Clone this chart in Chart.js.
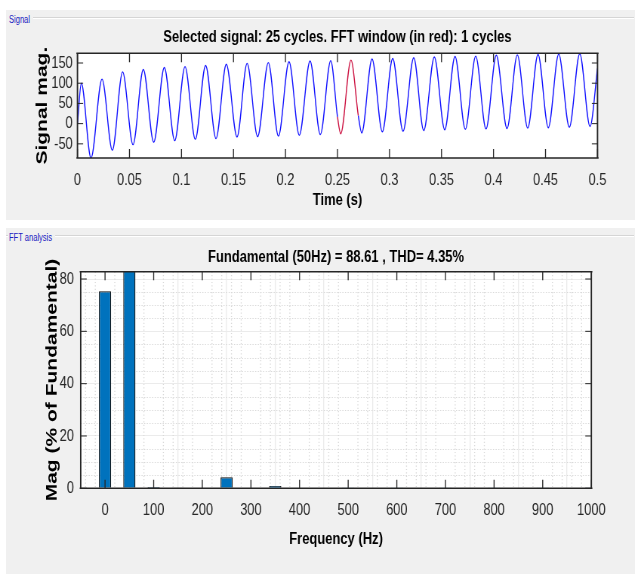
<!DOCTYPE html>
<html><head><meta charset="utf-8">
<script src="https://cdn.jsdelivr.net/npm/chart.js@4.4.1/dist/chart.umd.min.js"></script>
<style>
html,body{margin:0;padding:0;background:#fff;}
#root{position:relative;width:644px;height:574px;overflow:hidden;background:#fff;}
.panel{position:absolute;background:#f0f0f0;}
.etch{position:absolute;height:0;border-top:1px solid #d5d5d5;border-bottom:1px solid #ffffff;}
.plabel{position:absolute;font-family:'Liberation Sans',Arial,sans-serif;font-size:10px;color:#2020c0;transform:scaleX(0.755);transform-origin:0 0;white-space:nowrap;line-height:10px;}
canvas{position:absolute;left:0;transform:scaleX(0.755);transform-origin:0 0;}
</style></head>
<body><div id="root">
<div class="panel" style="left:6px;top:10px;width:629px;height:210px"></div>
<div class="panel" style="left:6px;top:228px;width:629px;height:346px"></div>
<div class="etch" style="left:33px;top:17px;width:601px"></div>
<div class="etch" style="left:55px;top:235px;width:579px"></div>
<div class="etch" style="left:6px;top:235px;width:2px"></div>
<div class="plabel" style="left:9px;top:15px">Signal</div>
<div class="plabel" style="left:9px;top:233px">FFT analysis</div>
<canvas id="c1" width="853" height="220" style="top:0px"></canvas>
<canvas id="c2" width="853" height="354" style="top:220px"></canvas>
</div>
<script>
// ---------- data ----------
const timePoints = [0, 0.0037, 0.0130, 0.0236, 0.0335, 0.0434, 0.0534, 0.0633, 0.0733, 0.0835, 0.0935, 0.1034, 0.1133, 0.1232, 0.1332, 0.1431, 0.1534, 0.1631, 0.1732, 0.1835, 0.1932, 0.2034, 0.2133, 0.2236, 0.2335, 0.2435, 0.25, 0.2531, 0.2630, 0.27, 0.2733, 0.2832, 0.2931, 0.3031, 0.3130, 0.3233, 0.3329, 0.3431, 0.3531, 0.3630, 0.3729, 0.3829, 0.3928, 0.4027, 0.4130, 0.4229, 0.4329, 0.4428, 0.4527, 0.4627, 0.4729, 0.4829, 0.4928, 0.5];
const signalValues = [0, 100, -85, 110, -66, 128, -52, 134, -46, 139, -42, 141, -39, 144, -37, 147, -33, 149, -32, 151, -31, 153, -29, 155, -27, 156, 17, -25, 157, 20, -23, 160, -20, 161, -19, 163, -17, 165, -15, 166, -14, 167, -13, 169, -12, 170, -11, 171, -10, 172, -9, 173, -7, 137];
const fftWindow = [0.25, 0.27];
const timeTicks = [0, 0.05, 0.1, 0.15, 0.2, 0.25, 0.3, 0.35, 0.4, 0.45, 0.5];
const timeTickLabels = ['0', '0.05', '0.1', '0.15', '0.2', '0.25', '0.3', '0.35', '0.4', '0.45', '0.5'];
const signalTicks = [-50, 0, 50, 100, 150];
const signalTickLabels = ['-50', '0', '50', '100', '150'];
const signalRange = [-85, 174];

const harmonicFreqs = [0, 50, 100, 150, 200, 250, 300, 350, 400, 450, 500, 550, 600, 650, 700, 750, 800, 850, 900, 950, 1000];
const harmonicMags = [75.3, 100, 0.5, 0.3, 0.25, 4.2, 0.2, 0.9, 0.2, 0.25, 0.1, 0.25, 0.1, 0.25, 0.1, 0.25, 0.1, 0.25, 0.1, 0.25, 0.1];
const freqTicks = [0, 100, 200, 300, 400, 500, 600, 700, 800, 900, 1000];
const freqTickLabels = ['0', '100', '200', '300', '400', '500', '600', '700', '800', '900', '1000'];
const magTicks = [0, 20, 40, 60, 80];
const magTickLabels = ['0', '20', '40', '60', '80'];
const freqRange = [-50, 1000];
const magRange = [0, 82.8];

const titleSignal = 'Selected signal: 25 cycles. FFT window (in red): 1 cycles';
const titleFFT = 'Fundamental (50Hz) = 88.61 , THD= 4.35%';

// ---------- style ----------
const SX = 0.755;
const FONT = "'Liberation Sans', Arial, Helvetica, sans-serif";
const AX = '#262626';

const framePlugin = {
  id: 'frame',
  beforeDraw(chart) {
    const {ctx, chartArea: a} = chart;
    ctx.save(); ctx.fillStyle = '#ffffff';
    ctx.fillRect(a.left, a.top, a.right - a.left, a.bottom - a.top);
    ctx.restore();
  },
  beforeDatasetsDraw(chart, args, o) {
    if (!o.minor) return;
    const {ctx, chartArea: a, scales: {x, y}} = chart;
    ctx.save();
    ctx.strokeStyle = o.minorColor;
    ctx.setLineDash([1.2, 2.2]);
    ctx.lineWidth = 1 / SX;
    ctx.beginPath();
    for (let v = Math.ceil(x.min / o.xMinor) * o.xMinor; v <= x.max; v += o.xMinor) {
      if (v % o.xMajor === 0) continue;
      const p = x.getPixelForValue(v);
      ctx.moveTo(p, a.top); ctx.lineTo(p, a.bottom);
    }
    ctx.stroke();
    ctx.lineWidth = 1;
    ctx.setLineDash([1.5, 2]);
    ctx.beginPath();
    for (let v = Math.ceil(y.min / o.yMinor) * o.yMinor; v <= y.max; v += o.yMinor) {
      if (v % o.yMajor === 0) continue;
      const p = Math.round(y.getPixelForValue(v)) + 0.5;
      ctx.moveTo(a.left, p); ctx.lineTo(a.right, p);
    }
    ctx.stroke();
    ctx.restore();
  },
  afterDatasetsDraw(chart, args, o) {
    const {ctx, chartArea: a, scales: {x, y}} = chart;
    ctx.save();
    ctx.strokeStyle = AX;
    ctx.lineWidth = 1 / SX;
    ctx.beginPath();
    x.ticks.forEach(t => {
      const p = x.getPixelForValue(t.value);
      ctx.moveTo(p, a.bottom); ctx.lineTo(p, a.bottom - o.tickV);
      ctx.moveTo(p, a.top); ctx.lineTo(p, a.top + o.tickV);
    });
    ctx.stroke();
    ctx.lineWidth = 1;
    ctx.beginPath();
    y.ticks.forEach(t => {
      const p = y.getPixelForValue(t.value);
      ctx.moveTo(a.left, p); ctx.lineTo(a.left + o.tickH, p);
      ctx.moveTo(a.right, p); ctx.lineTo(a.right - o.tickH, p);
    });
    ctx.stroke();
    const bw = 1.4;
    ctx.lineWidth = bw;
    ctx.beginPath();
    ctx.moveTo(a.left - bw, a.top); ctx.lineTo(a.right + bw, a.top);
    ctx.moveTo(a.left - bw, a.bottom); ctx.lineTo(a.right + bw, a.bottom);
    ctx.stroke();
    ctx.lineWidth = bw / SX;
    ctx.beginPath();
    ctx.moveTo(a.left, a.top); ctx.lineTo(a.left, a.bottom);
    ctx.moveTo(a.right, a.top); ctx.lineTo(a.right, a.bottom);
    ctx.stroke();
    ctx.restore();
  }
};

function fixTicks(values) {
  return scale => { scale.ticks = values.map(v => ({value: v})); };
}

// ---------- chart 1: signal ----------
new Chart(document.getElementById('c1'), {
  type: 'line',
  data: {
    datasets: [{
      data: timePoints.map((t, i) => ({x: t, y: signalValues[i]})),
      borderColor: '#1010ff',
      borderWidth: 1.4,
      pointRadius: 0,
      fill: false,
      cubicInterpolationMode: 'monotone',
      segment: {
        borderColor: c => (c.p0.parsed.x >= fftWindow[0] - 1e-9 && c.p1.parsed.x <= fftWindow[1] + 1e-9) ? '#cc1040' : undefined
      }
    }]
  },
  options: {
    responsive: false, animation: false, devicePixelRatio: 1,
    layout: {padding: {left: 0, right: 61.6, top: 0, bottom: 0}},
    plugins: {
      legend: {display: false}, tooltip: {enabled: false},
      title: {display: true, text: titleSignal, fullSize: false, color: '#000',
        font: {family: FONT, size: 17.2, weight: 'bold'}, padding: {top: 26.7, bottom: 5.96}},
      frame: {tickV: 9, tickH: 7.5}
    },
    scales: {
      x: {
        type: 'linear', min: 0, max: 0.5,
        afterBuildTicks: fixTicks(timeTicks),
        afterFit: s => { s.height = 62; },
        grid: {display: false, drawTicks: false}, border: {display: false},
        ticks: {autoSkip: false, maxRotation: 0, padding: 11.8, color: AX,
          font: {family: FONT, size: 17}, callback: (v, i) => timeTickLabels[i]},
        title: {display: true, text: 'Time (s)', color: '#000',
          font: {family: FONT, size: 17.2, weight: 'bold'}, padding: {top: 0, bottom: 9.7}}
      },
      y: {
        type: 'linear', min: signalRange[0], max: signalRange[1],
        afterBuildTicks: fixTicks(signalTicks),
        afterFit: s => { s.width = 102.6; },
        grid: {display: false, drawTicks: false}, border: {display: false},
        ticks: {autoSkip: false, padding: 6.3, color: AX, font: {family: FONT, size: 17},
          callback: (v, i) => signalTickLabels[i]},
        title: {display: true, text: 'Signal mag.', color: '#000',
          font: {family: FONT, size: 21, weight: 'bold'}, padding: {top: 44, bottom: 0}}
      }
    }
  },
  plugins: [framePlugin]
});

// ---------- chart 2: FFT ----------
new Chart(document.getElementById('c2'), {
  type: 'bar',
  data: {
    datasets: [{
      data: harmonicFreqs.map((f, i) => ({x: f, y: harmonicMags[i]})),
      backgroundColor: '#0072bd',
      borderColor: '#111111',
      borderWidth: 1.3,
      barPercentage: 1,
      categoryPercentage: 0.5
    }]
  },
  options: {
    responsive: false, animation: false, devicePixelRatio: 1,
    layout: {padding: {left: 0, right: 69.8, top: 0, bottom: 0}},
    plugins: {
      legend: {display: false}, tooltip: {enabled: false},
      title: {display: true, text: titleFFT, fullSize: false, color: '#000',
        font: {family: FONT, size: 17.2, weight: 'bold'}, padding: {top: 26.7, bottom: 4.36}},
      frame: {tickV: 8.5, tickH: 8, minor: true, minorColor: '#d9d9d9', xMinor: 20, xMajor: 100, yMinor: 5, yMajor: 20}
    },
    scales: {
      x: {
        type: 'linear', min: freqRange[0], max: freqRange[1], offset: false,
        afterBuildTicks: fixTicks(freqTicks),
        afterFit: s => { s.height = 85.7; },
        grid: {display: true, drawTicks: false, color: '#ebebeb', lineWidth: 1 / SX}, border: {display: false},
        ticks: {autoSkip: false, maxRotation: 0, padding: 12.2, color: AX, font: {family: FONT, size: 17},
          callback: (v, i) => freqTickLabels[i]},
        title: {display: true, text: 'Frequency (Hz)', color: '#000',
          font: {family: FONT, size: 17.2, weight: 'bold'}, padding: {top: 0, bottom: 24.2}}
      },
      y: {
        type: 'linear', min: magRange[0], max: magRange[1],
        afterBuildTicks: fixTicks(magTicks),
        afterFit: s => { s.width = 106.9; },
        grid: {display: true, drawTicks: false, color: '#ebebeb', lineWidth: 1}, border: {display: false},
        ticks: {autoSkip: false, padding: 8.9, color: AX, font: {family: FONT, size: 17},
          callback: (v, i) => magTickLabels[i]},
        title: {display: true, text: 'Mag (% of Fundamental)', color: '#000',
          font: {family: FONT, size: 21, weight: 'bold'}, padding: {top: 56.5, bottom: 0}}
      }
    }
  },
  plugins: [framePlugin]
});
</script>
</body></html>
